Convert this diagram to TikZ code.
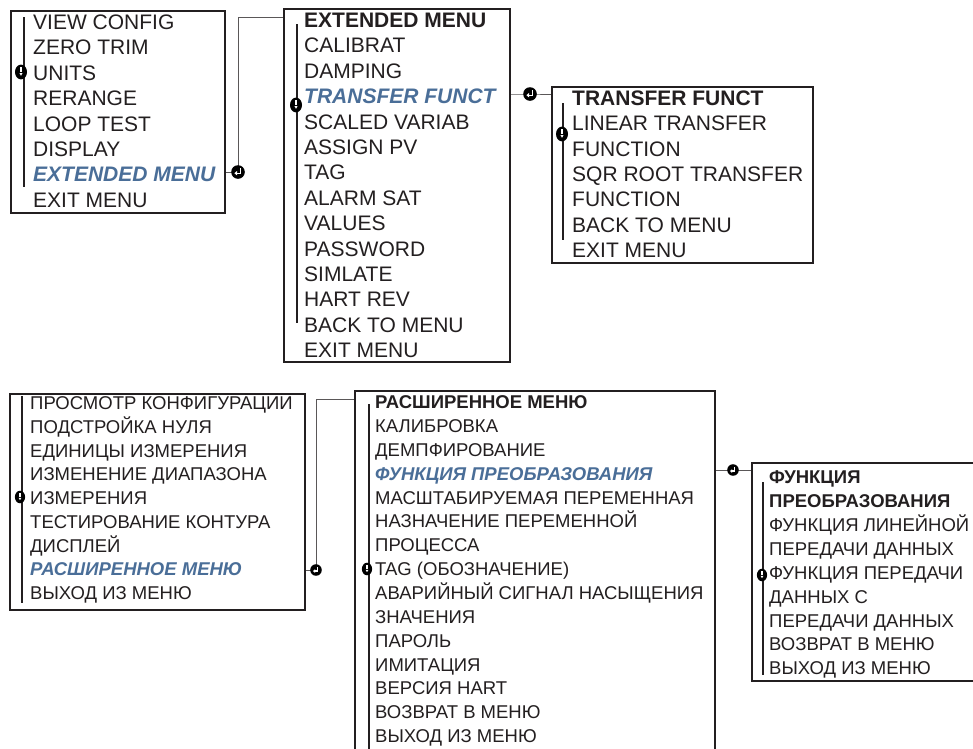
\documentclass[tikz,border=0pt]{standalone}
\usepackage{fontspec}
\setmainfont{Liberation Sans}
\usetikzlibrary{shapes.geometric,arrows.meta}
\definecolor{hlblue}{HTML}{4A6E98}
\definecolor{ink}{HTML}{231F20}
\newcommand\topf{\fontsize{21}{24}\selectfont}
\newcommand\botf{\fontsize{18.5}{22}\selectfont}
\newcommand\hl{\bfseries\itshape\color{hlblue}}
\begin{document}
\begin{tikzpicture}[x=1pt,y=-1pt,
  box/.style={draw=ink, line width=2pt, rectangle, inner sep=0pt, anchor=north west},
  itemtop/.style={anchor=base west, inner sep=0pt, font=\topf, text=ink},
  itembot/.style={anchor=base west, inner sep=0pt, font=\botf, text=ink},
  conn/.style={draw=ink!75, line width=1pt},
  scrollbar/.style={draw=ink, line width=1.2pt},
  downico/.pic={
    \fill[black] (0,0) ellipse [x radius=6pt, y radius=7.4pt];
    \draw[white, line width=1.2pt] (0pt,4.6pt) -- (0pt,0pt);
    \fill[white] (0pt,-3.8pt) -- (-1.6pt,-1.0pt) -- (1.6pt,-1.0pt) -- cycle;
  },
  enterico/.pic={
    \fill[black] (0,0) circle [radius=6.8pt];
    \draw[white, line width=1.2pt] (2.2pt,3.6pt) -- (2.2pt,-1.2pt) -- (-1.0pt,-1.2pt);
    \fill[white] (-3.6pt,-1.2pt) -- (-1.0pt,1.0pt) -- (-1.0pt,-3.4pt) -- cycle;
  }
]
\useasboundingbox (0,0) rectangle (973,748);
\fill[white] (0,0) rectangle (973,748);

% ---------- boxes ----------
\node[box, minimum width=214pt, minimum height=202pt] (B1) at (10,10) {};
\node[box, minimum width=226pt, minimum height=353pt] (B2) at (283,8) {};
\node[box, minimum width=261pt, minimum height=176pt] (B3) at (551,86) {};
\node[box, minimum width=295pt, minimum height=216pt] (B4) at (9,393) {};
\node[box, minimum width=360pt, minimum height=370pt] (B5) at (354,390) {};
\node[box, minimum width=240pt, minimum height=218pt] (B6) at (751,462) {};

% ---------- texts ----------
\foreach \t [count=\i from 0] in {VIEW CONFIG, ZERO TRIM, UNITS, RERANGE, LOOP TEST, DISPLAY, {\hl EXTENDED MENU}, EXIT MENU}
  \node[itemtop] (a\i) at (33,{29.4+25.4*\i}) {\t};
\foreach \t [count=\i from 0] in {{\bfseries EXTENDED MENU}, CALIBRAT, DAMPING, {\hl TRANSFER FUNCT}, SCALED VARIAB, ASSIGN PV, TAG, ALARM SAT, VALUES, PASSWORD, SIMLATE, HART REV, BACK TO MENU, EXIT MENU}
  \node[itemtop] (b\i) at (304,{27.5+25.4*\i}) {\t};
\foreach \t [count=\i from 0] in {{\bfseries TRANSFER FUNCT}, LINEAR TRANSFER, FUNCTION, SQR ROOT TRANSFER, FUNCTION, BACK TO MENU, EXIT MENU}
  \node[itemtop] (c\i) at (572,{105.5+25.3*\i}) {\t};
\foreach \t [count=\i from 0] in {ПРОСМОТР КОНФИГУРАЦИИ, ПОДСТРОЙКА НУЛЯ, ЕДИНИЦЫ ИЗМЕРЕНИЯ, ИЗМЕНЕНИЕ ДИАПАЗОНА, ИЗМЕРЕНИЯ, ТЕСТИРОВАНИЕ КОНТУРА, ДИСПЛЕЙ, {\hl РАСШИРЕННОЕ МЕНЮ}, ВЫХОД ИЗ МЕНЮ}
  \node[itembot] (d\i) at (30,{409.6+23.75*\i}) {\t};
\foreach \t [count=\i from 0] in {{\bfseries РАСШИРЕННОЕ МЕНЮ}, КАЛИБРОВКА, ДЕМПФИРОВАНИЕ, {\hl ФУНКЦИЯ ПРЕОБРАЗОВАНИЯ}, МАСШТАБИРУЕМАЯ ПЕРЕМЕННАЯ, НАЗНАЧЕНИЕ ПЕРЕМЕННОЙ, ПРОЦЕССА, TAG (ОБОЗНАЧЕНИЕ), АВАРИЙНЫЙ СИГНАЛ НАСЫЩЕНИЯ, ЗНАЧЕНИЯ, ПАРОЛЬ, ИМИТАЦИЯ, ВЕРСИЯ HART, ВОЗВРАТ В МЕНЮ, ВЫХОД ИЗ МЕНЮ}
  \node[itembot] (e\i) at (375,{408.6+23.86*\i}) {\t};
\foreach \t [count=\i from 0] in {{\bfseries ФУНКЦИЯ}, {\bfseries ПРЕОБРАЗОВАНИЯ}, ФУНКЦИЯ ЛИНЕЙНОЙ, ПЕРЕДАЧИ ДАННЫХ, ФУНКЦИЯ ПЕРЕДАЧИ, ДАННЫХ С, ПЕРЕДАЧИ ДАННЫХ, ВОЗВРАТ В МЕНЮ, ВЫХОД ИЗ МЕНЮ}
  \node[itembot] (f\i) at (769,{483.6+23.9*\i}) {\t};

% ---------- scroll bars ----------
\draw[scrollbar] (24,17) -- (24,187);
\draw[scrollbar] (297,24) -- (297,323);
\draw[scrollbar] (563,103) -- (563,240);
\draw[scrollbar] (22,396) -- (22,603);
\draw[scrollbar] (369,404) -- (369,750);
\draw[scrollbar] (763,482) -- (763,675);

% ---------- connector points ----------
\coordinate (n1) at (238,172);
\coordinate (n2) at (530,94);
\coordinate (n3) at (316,570);
\coordinate (n4) at (733,470);
\coordinate (k1) at (238,17);
\coordinate (k3) at (316,399);

% ---------- connectors ----------
\draw[conn] (B1.east |- n1) -- (n1) -- (k1) -- (B2.west |- k1);
\draw[conn] (B2.east |- n2) -- (n2) -- (B3.west |- n2);
\draw[conn] (B4.east |- n3) -- (n3) -- (k3) -- (B5.west |- k3);
\draw[conn] (B5.east |- n4) -- (n4) -- (B6.west |- n4);

% ---------- icons ----------
\pic at (n1) {enterico};
\pic at (n2) {enterico};
\pic[scale=0.85] at (n3) {enterico};
\pic[scale=0.85] at (n4) {enterico};
\pic at (21,72) {downico};
\pic at (296,105) {downico};
\pic at (562,134) {downico};
\pic[scale=0.85] at (20,497) {downico};
\pic[scale=0.85] at (367,569) {downico};
\pic[scale=0.85] at (762,575) {downico};
\end{tikzpicture}
\end{document}
